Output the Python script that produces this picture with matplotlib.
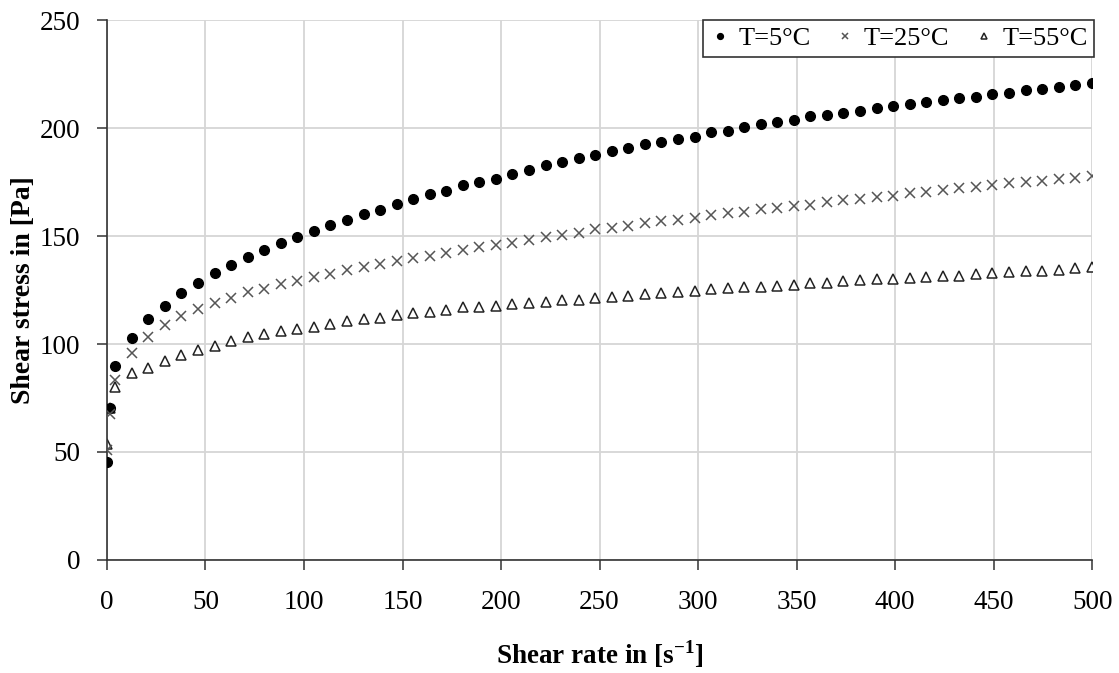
import matplotlib
matplotlib.use("Agg")
import matplotlib.pyplot as plt

plt.rcParams['font.family'] = ['Liberation Serif', 'DejaVu Serif']
plt.rcParams['mathtext.fontset'] = 'custom'
plt.rcParams['mathtext.rm'] = 'Liberation Serif'
plt.rcParams['mathtext.bf'] = 'Liberation Serif:bold'

# скорость сдвига, 1/s
shear_rate = [0.1, 1.5,
              4.2, 12.6, 21.0, 29.4, 37.8, 46.2, 54.6, 63.0, 71.4, 79.8,
              88.2, 96.6, 105.0, 113.4, 121.8, 130.2, 138.6, 147.0, 155.4, 163.8,
              172.2, 180.6, 189.0, 197.4, 205.8, 214.2, 222.6, 231.0, 239.4, 247.8,
              256.2, 264.6, 273.0, 281.4, 289.8, 298.2, 306.6, 315.0, 323.4, 331.8,
              340.2, 348.6, 357.0, 365.4, 373.8, 382.2, 390.6, 399.0, 407.4, 415.8,
              424.2, 432.6, 441.0, 449.4, 457.8, 466.2, 474.6, 483.0, 491.4, 499.8]

# напряжение сдвига, Pa
stress_5 = [45.5, 70.2,
            89.8, 102.9, 111.6, 117.6, 123.8, 128.5, 132.9, 136.7, 140.4, 143.5,
            146.6, 149.4, 152.3, 155.1, 157.3, 160.0, 162.0, 164.8, 167.3, 169.3,
            170.8, 173.6, 175.0, 176.4, 178.7, 180.4, 182.7, 184.3, 186.0, 187.6,
            189.2, 190.7, 192.6, 193.5, 195.0, 196.0, 198.0, 198.9, 200.5, 201.7,
            202.8, 203.7, 205.6, 206.2, 207.1, 208.1, 209.1, 210.2, 211.0, 212.0,
            213.1, 214.0, 214.5, 215.9, 216.3, 217.5, 217.9, 219.0, 219.8, 220.7]

stress_25 = [51.0, 67.6,
             83.3, 96.0, 103.2, 108.6, 113.0, 116.2, 119.1, 121.1, 123.9, 125.5,
             127.6, 129.3, 130.9, 132.4, 134.3, 135.8, 137.3, 138.6, 139.7, 140.9,
             142.3, 143.5, 145.1, 145.8, 146.9, 148.1, 149.4, 150.5, 151.5, 153.1,
             153.8, 154.6, 155.9, 156.9, 157.6, 158.6, 159.7, 160.8, 161.3, 162.4,
             163.1, 164.0, 164.4, 165.6, 166.7, 167.1, 168.2, 168.7, 169.8, 170.5,
             171.3, 172.1, 172.8, 173.6, 174.4, 175.1, 175.6, 176.4, 177.0, 177.9]

stress_55 = [53.7, 70.5,
             80.2, 86.7, 89.0, 92.1, 94.9, 97.1, 99.2, 101.5, 103.1, 104.6,
             105.9, 107.0, 108.0, 109.3, 110.8, 111.6, 112.2, 113.4, 114.5, 115.0,
             115.7, 117.0, 117.3, 117.7, 118.4, 118.8, 119.3, 120.2, 120.2, 121.1,
             121.9, 122.4, 123.1, 123.5, 124.2, 124.7, 125.3, 125.8, 126.2, 126.2,
             126.9, 127.5, 128.1, 128.5, 129.2, 129.6, 130.0, 130.3, 130.6, 131.2,
             131.6, 131.6, 132.3, 132.7, 133.3, 133.9, 133.9, 134.4, 135.0, 135.5]

labels = ['T=5°C', 'T=25°C', 'T=55°C']

fig = plt.figure(figsize=(11.19, 6.73), dpi=100)
ax = fig.add_axes([0.0956, 0.168, 0.8804, 0.802])

ax.plot(shear_rate, stress_5, 'o', color='black', ms=7, label=labels[0], zorder=3)
ax.plot(shear_rate, stress_25, 'x', color='#555555', ms=6.5, mew=1.1, label=labels[1], zorder=3)
ax.plot(shear_rate, stress_55, '^', mfc='white', mec='#222222', ms=7.5, mew=1.1,
        label=labels[2], zorder=2)

ax.set_xlim(0, 500)
ax.set_ylim(0, 250)
ax.set_xticks(range(0, 501, 50))
ax.set_yticks(range(0, 251, 50))
ax.grid(True, color='#d6d6d6', lw=1.3)
ax.set_axisbelow(True)

for s in ['top', 'right']:
    ax.spines[s].set_visible(False)
for s in ['left', 'bottom']:
    ax.spines[s].set_color('#333333')
    ax.spines[s].set_linewidth(1.2)

ax.tick_params(axis='both', direction='out', length=7, width=1.1, color='#333333',
               labelsize=19.5)
ax.tick_params(axis='x', pad=15)
ax.tick_params(axis='y', pad=12)

ax.set_xlabel('Shear rate in [s$^{\\mathbf{-1}}$]', fontsize=19.5, fontweight='bold', labelpad=16)
ax.set_ylabel('Shear stress in [Pa]', fontsize=20, fontweight='bold', labelpad=3)

leg = ax.legend(loc='upper right', ncol=3, fontsize=19, frameon=True, fancybox=False,
                edgecolor='#333333', framealpha=1, markerscale=0.6, handlelength=0.8,
                handletextpad=0.3, columnspacing=0.9, borderpad=0.25, borderaxespad=0,
                bbox_to_anchor=(1.002, 1.0))
leg.get_frame().set_linewidth(1.2)

fig.savefig('out.png', dpi=100)
